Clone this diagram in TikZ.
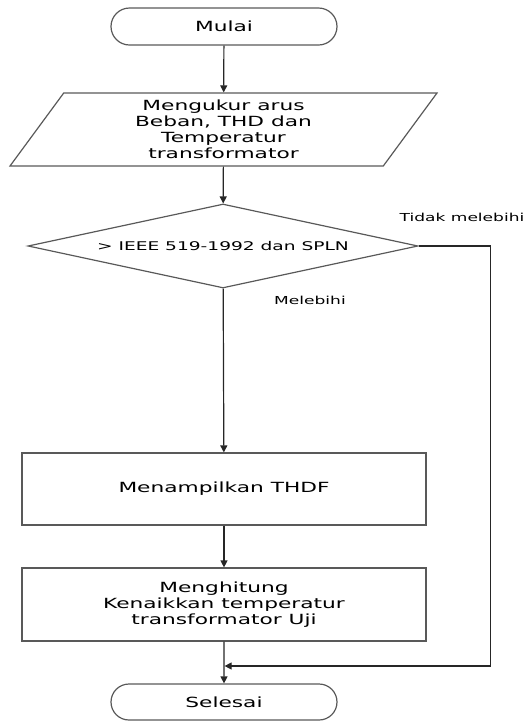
\documentclass[tikz,border=0pt]{standalone}
\usepackage{fontspec}
\setmainfont{DejaVu Sans}[FakeStretch=1.55]
\usetikzlibrary{shapes.geometric,shapes.misc,arrows.meta}

\begin{document}
\begin{tikzpicture}[x=1pt,y=1pt,line width=1.2pt,
	>={Triangle[width=7pt,length=7pt]},
	flow/.style={draw=black!85,->},
	terminal/.style={rounded rectangle,draw=black!65,minimum width=226pt,minimum height=37pt,inner sep=0pt,font=\fontsize{14}{16}\selectfont},
	inputbox/.style={trapezium,trapezium left angle=47.6,trapezium right angle=132.4,trapezium stretches body,draw=black!65,minimum width=427pt,minimum height=73pt,inner sep=0pt,align=center,font=\fontsize{14}{16}\selectfont},
	decision/.style={diamond,aspect=4.64,draw=black!65,minimum width=390pt,minimum height=84pt,inner sep=1pt,font=\fontsize{12}{14}\selectfont},
	process/.style={rectangle,draw=black!65,minimum width=404pt,minimum height=72pt,inner sep=0pt,align=center,font=\fontsize{14}{16}\selectfont},
	note/.style={font=\fontsize{11}{13}\selectfont,inner sep=0pt}]
	\useasboundingbox (0,0) rectangle (526,-721);
	\node[terminal] (start) at (224,-26.5) {Mulai};
	\node[inputbox] (input) at (223.5,-129.5) {Mengukur arus\\Beban, THD dan\\Temperatur\\transformator};
	\node[decision] (check) at (223,-246) {> IEEE 519-1992 dan SPLN};
	\node[process] (thdf) at (224,-489) {Menampilkan THDF};
	\node[process,minimum height=73pt] (rise) at (224,-604.5) {Menghitung\\Kenaikkan temperatur\\transformator Uji};
	\node[terminal,minimum height=36pt] (stop) at (224,-702) {Selesai};
	\coordinate (join) at (224,-666);
	\node[note] (yes) at (310,-300) {Melebihi};
	\node[note] (no) at (462,-217) {Tidak melebihi};
	\draw[flow] (start) -- (input);
	\draw[flow] (input) -- (check);
	\draw[flow] (check) -- (thdf);
	\draw[flow] (thdf) -- (rise);
	\draw[flow] (rise) -- (stop);
	\draw[flow,shorten >=0.6pt] (check.east) -- ++(72,0) |- (join);
\end{tikzpicture}
\end{document}
